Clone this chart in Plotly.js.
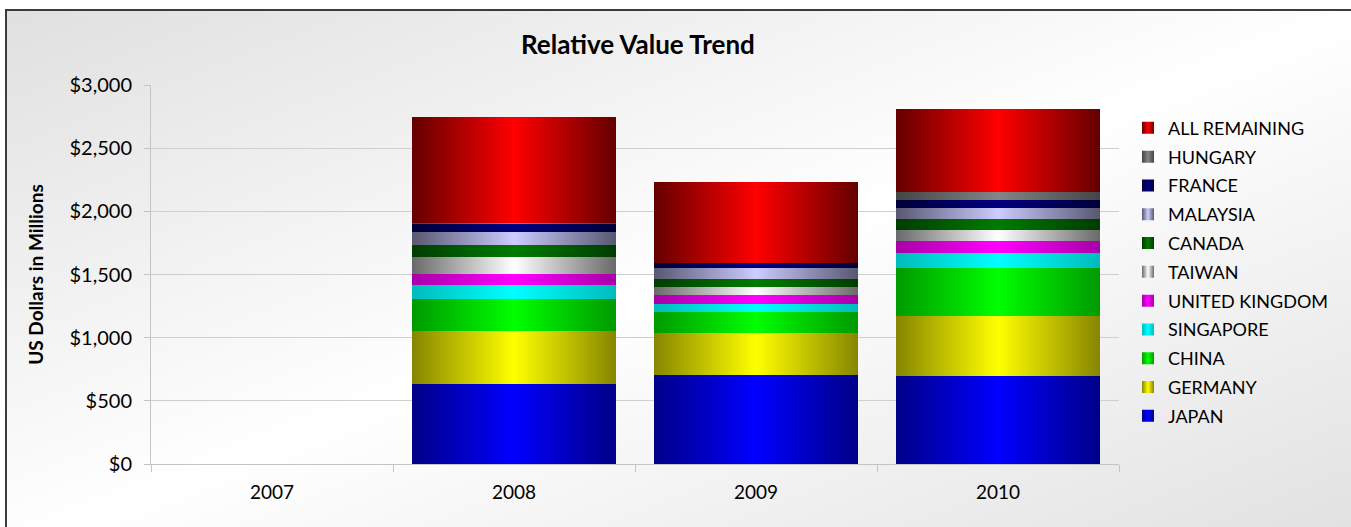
<!DOCTYPE html>
<html>
<head>
<meta charset="utf-8">
<script src="https://cdn.plot.ly/plotly-3.0.1.min.js"></script>
<style>
  html, body { margin:0; padding:0; background:#ffffff; width:1351px; height:527px; overflow:hidden; }
  #frame { position:absolute; left:5px; top:9px; width:1360px; height:540px;
           border-left:2px solid #3c3c3c; border-top:2px solid #3c3c3c;
           background: linear-gradient(to bottom right, #e0e0e0 0%, #ffffff 50%, #e0e0e0 100%); }
  #chart { position:absolute; left:0; top:0; width:1351px; height:527px; }
</style>
</head>
<body>
<div id="frame"></div>
<div id="chart"></div>
<script>
// ---- data (US$ millions) ----
const years = ['2007', '2008', '2009', '2010'];
const seriesNames = ['JAPAN', 'GERMANY', 'CHINA', 'SINGAPORE', 'UNITED KINGDOM', 'TAIWAN', 'CANADA', 'MALAYSIA', 'FRANCE', 'HUNGARY', 'ALL REMAINING'];
const japan         = [0, 636, 705, 697];
const germany       = [0, 419, 332, 475];
const china         = [0, 251, 166, 380];
const singapore     = [0, 111, 64, 118];
const unitedKingdom = [0, 87, 71, 95];
const taiwan        = [0, 137, 63, 87];
const canada        = [0, 93, 63, 87];
const malaysia      = [0, 105, 88, 88];
const france        = [0, 66, 39, 63];
const hungary       = [0, 5, 3, 63];
const allRemaining  = [0, 834, 641, 657];
const seriesValues = [japan, germany, china, singapore, unitedKingdom, taiwan, canada, malaysia, france, hungary, allRemaining];

// ---- styling: [edge colour, centre colour] of each bar's horizontal shading ----
const shades = [
  ['#000088', '#0000ff'],
  ['#868600', '#ffff00'],
  ['#009a00', '#00ff00'],
  ['#00bcbc', '#00ffff'],
  ['#a800a8', '#ff00ff'],
  ['#6a6a6a', '#ffffff'],
  ['#003c00', '#007c00'],
  ['#585872', '#ccccff'],
  ['#00003a', '#000080'],
  ['#454545', '#858585'],
  ['#650000', '#ff0000']
];

const FONT = 'Lato, "Open Sans", sans-serif';

const traces = seriesNames.map((name, i) => ({
  type: 'bar',
  name: name,
  legendgroup: name,
  legendrank: seriesNames.length - i,
  x: years,
  y: seriesValues[i],
  marker: { color: shades[i][1], line: { width: 0 } },
  hovertemplate: name + ' %{x}: $%{y:,}M<extra></extra>'
}));

const layout = {
  width: 1351, height: 527,
  paper_bgcolor: 'rgba(0,0,0,0)',
  plot_bgcolor: 'rgba(0,0,0,0)',
  margin: { l: 151, r: 232, t: 85, b: 63, pad: 0 },
  barmode: 'stack',
  bargap: 0.16,
  font: { family: FONT, color: '#000000' },
  title: {
    text: '<b>Relative Value Trend</b>',
    font: { family: FONT, size: 26, color: '#000000' },
    x: 0.503, xref: 'paper', xanchor: 'center',
    y: 0.915, yref: 'container', yanchor: 'middle'
  },
  xaxis: {
    type: 'category',
    showgrid: false,
    showline: true, linecolor: '#c4c4c4', linewidth: 1,
    ticks: 'outside', tickson: 'boundaries', ticklen: 7, tickcolor: '#c4c4c4',
    tickfont: { family: FONT, size: 19, color: '#000000' },
    ticklabelstandoff: 11,
    zeroline: false
  },
  yaxis: {
    range: [0, 3000],
    dtick: 500,
    tickprefix: '$',
    tickformat: ',d',
    showgrid: true, gridcolor: '#cfcfcf', gridwidth: 1,
    showline: true, linecolor: '#c4c4c4', linewidth: 1,
    ticks: 'outside', ticklen: 6, tickcolor: '#c4c4c4',
    tickfont: { family: FONT, size: 20, color: '#000000' },
    ticklabelstandoff: 8,
    zeroline: false,
    title: { text: '<b>US Dollars in Millions</b>', font: { family: FONT, size: 19, color: '#000000' }, standoff: 20 }
  },
  legend: {
    x: 1.0093, xanchor: 'left',
    y: 0.935, yanchor: 'top',
    traceorder: 'grouped',
    tracegroupgap: 2.4,
    bgcolor: 'rgba(0,0,0,0)',
    font: { family: FONT, size: 18, color: '#000000' },
    itemwidth: 30
  },
  showlegend: true
};

Plotly.newPlot('chart', traces, layout, { displayModeBar: false }).then(gd => {
  // add horizontal shading gradients (dark edges, bright centre) as in the original
  const svgNS = 'http://www.w3.org/2000/svg';
  const svg = gd.querySelector('svg.main-svg');
  let defs = svg.querySelector('defs');
  if (!defs) { defs = document.createElementNS(svgNS, 'defs'); svg.insertBefore(defs, svg.firstChild); }
  shades.forEach((s, i) => {
    const g = document.createElementNS(svgNS, 'linearGradient');
    g.setAttribute('id', 'shade' + i);
    g.setAttribute('x1', '0'); g.setAttribute('y1', '0');
    g.setAttribute('x2', '1'); g.setAttribute('y2', '0');
    [[0, s[0]], [0.5, s[1]], [1, s[0]]].forEach(([o, c]) => {
      const st = document.createElementNS(svgNS, 'stop');
      st.setAttribute('offset', o);
      st.setAttribute('stop-color', c);
      g.appendChild(st);
    });
    defs.appendChild(g);
  });
  gd.querySelectorAll('.barlayer .trace').forEach(tr => {
    const d = tr.__data__;
    const idx = d && d[0] && d[0].trace ? d[0].trace.index : null;
    if (idx === null) return;
    tr.querySelectorAll('path').forEach(p => { p.style.fill = 'url(#shade' + idx + ')'; });
  });
  gd.querySelectorAll('.legend .traces').forEach(tr => {
    const d = tr.__data__;
    const idx = d && d[0] && d[0].trace ? d[0].trace.index : null;
    if (idx === null) return;
    tr.querySelectorAll('.legendpoints path').forEach(p => { p.style.fill = 'url(#shade' + idx + ')'; });
  });
});
</script>
</body>
</html>
